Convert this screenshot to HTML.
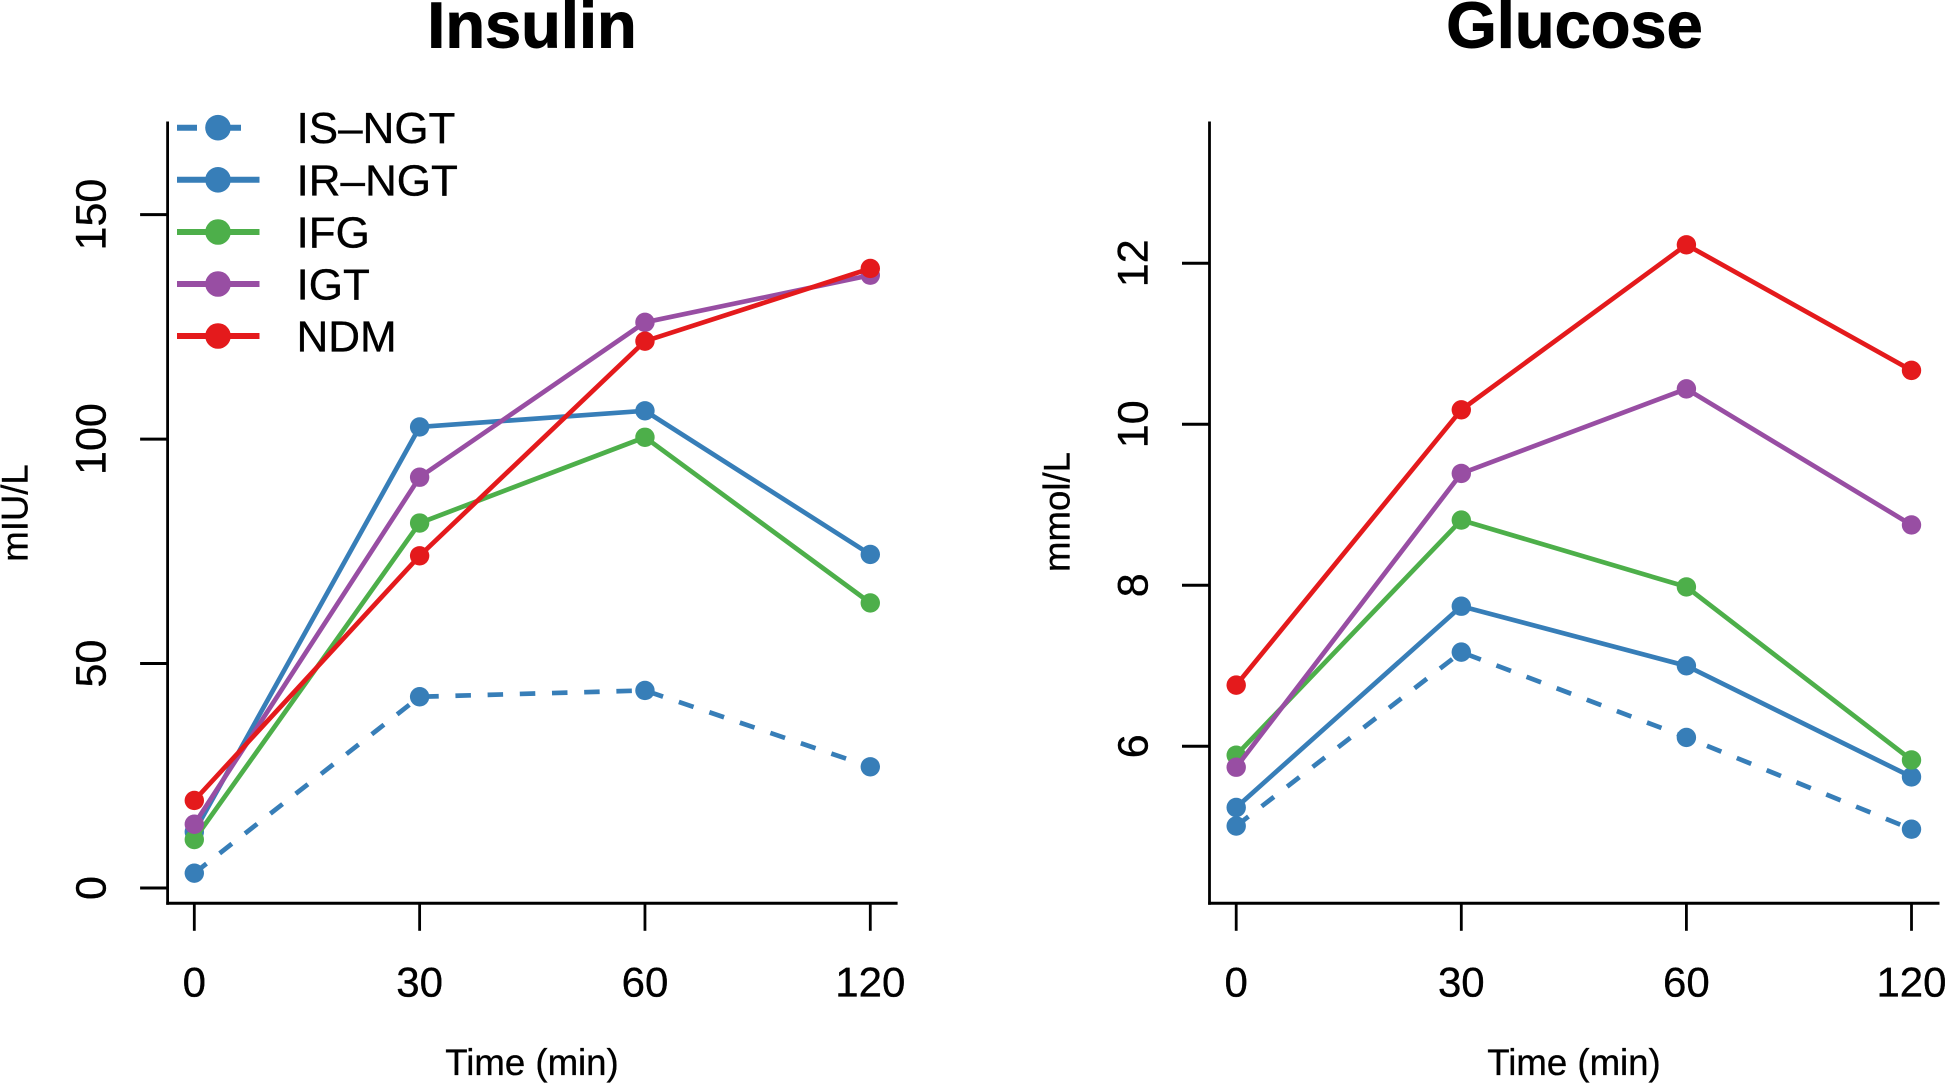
<!DOCTYPE html>
<html lang="en">
<head>
<meta charset="utf-8">
<title>Insulin and Glucose by Time</title>
<style>
  html, body { margin: 0; padding: 0; background: #fff; }
  body { width: 1946px; height: 1083px; overflow: hidden; }
  svg { display: block; font-family: "Liberation Sans", sans-serif; }
  text { stroke: #000; stroke-width: 0.35px; }
  .title { stroke-width: 0.9px; }
</style>
</head>
<body>
<svg id="chart" xmlns="http://www.w3.org/2000/svg" width="1946" height="1083" viewBox="0 0 1946 1083">
  <rect width="1946" height="1083" fill="#ffffff"/>
  <text class="title" x="532" y="47.5" font-size="65" font-weight="bold" text-anchor="middle" fill="#000">Insulin</text>
  <text class="title" x="1574.5" y="47.5" font-size="65" font-weight="bold" text-anchor="middle" fill="#000">Glucose</text>
  <text x="532" y="1075" font-size="36.6" text-anchor="middle" fill="#000">Time (min)</text>
  <text x="1574" y="1075" font-size="36.6" text-anchor="middle" fill="#000">Time (min)</text>
  <text transform="translate(27.5 513) rotate(-90)" font-size="36.6" text-anchor="middle" fill="#000">mIU/L</text>
  <text transform="translate(1069.5 512) rotate(-90)" font-size="36.6" text-anchor="middle" fill="#000">mmol/L</text>
  <g id="insulin-panel"></g>
  <g id="glucose-panel"></g>
  <g id="legend"></g>
</svg>
<script>
const timeLabels = ["0", "30", "60", "120"];
const groupNames = ["IS\u2013NGT", "IR\u2013NGT", "IFG", "IGT", "NDM"];
const insulinTicks = [0, 50, 100, 150];
const glucoseTicks = [6, 8, 10, 12];

const insulinISNGT = [3.3, 42.6, 44.0, 27.0];
const insulinIRNGT = [12.5, 102.7, 106.3, 74.3];
const insulinIFG = [10.8, 81.3, 100.4, 63.5];
const insulinIGT = [14.2, 91.5, 126.0, 136.5];
const insulinNDM = [19.5, 74.0, 121.8, 138.0];

const glucoseISNGT = [5.01, 7.17, 6.11, 4.97];
const glucoseIRNGT = [5.24, 7.74, 7.00, 5.62];
const glucoseIFG = [5.89, 8.81, 7.98, 5.83];
const glucoseIGT = [5.74, 9.39, 10.44, 8.75];
const glucoseNDM = [6.76, 10.18, 12.23, 10.67];

const NS = "http://www.w3.org/2000/svg";
const BLUE = "#377eb8", GREEN = "#4daf4a", PURPLE = "#984ea3", RED = "#e41a1c";
const seriesColors = [BLUE, BLUE, GREEN, PURPLE, RED];
const seriesKeys = ["is-ngt", "ir-ngt", "ifg", "igt", "ndm"];
const DASH = "15.5 16.7";
const LINE_W = 4.7;
const R = 9.7;

function make(parent, tag, attrs) {
  const el = document.createElementNS(NS, tag);
  for (const k in attrs) el.setAttribute(k, attrs[k]);
  parent.appendChild(el);
  return el;
}

function linearScale(v0, p0, v1, p1) {
  return function (v) { return p0 + (v - v0) * (p1 - p0) / (v1 - v0); };
}

function drawPanel(panelId, prefix, geom, yScale, yTicks, seriesList) {
  const root = document.getElementById(panelId);
  const xScale = function (i) { return geom.x0 + i * geom.dx; };

  const yAxis = make(root, "line", { x1: geom.axisX, x2: geom.axisX, y1: geom.top, y2: geom.bottom + 1.4, stroke: "#000", "stroke-width": 2.8 });
  
  

  const xAxis = make(root, "line", { x1: geom.axisX - 1.3, x2: geom.right, y1: geom.bottom, y2: geom.bottom, stroke: "#000", "stroke-width": 3 });
  
  

  yTicks.forEach(function (v) {
    const y = yScale(v);
    const tick = make(root, "line", { x1: geom.axisX - 27.5, x2: geom.axisX, y1: y, y2: y, stroke: "#000", "stroke-width": 3 });
    
    
    const label = make(root, "text", { transform: "translate(" + (geom.axisX - 62) + " " + y + ") rotate(-90)", "font-size": 43, "text-anchor": "middle", fill: "#000" });
    label.textContent = String(v);
    
    
  });

  timeLabels.forEach(function (t, i) {
    const x = xScale(i);
    const tick = make(root, "line", { x1: x, x2: x, y1: geom.bottom, y2: geom.bottom + 27.5, stroke: "#000", "stroke-width": 2.8 });
    
    
    const label = make(root, "text", { x: x, y: 996.5, "font-size": 42, "text-anchor": "middle", fill: "#000" });
    label.textContent = t;
    
    
  });

  seriesList.forEach(function (values, s) {
    const group = make(root, "g", {});
    
    
    const pts = values.map(function (v, i) { return xScale(i).toFixed(2) + "," + yScale(v).toFixed(2); }).join(" ");
    const attrs = { points: pts, fill: "none", stroke: seriesColors[s], "stroke-width": LINE_W, "stroke-linejoin": "round" };
    if (s === 0) { attrs["stroke-dasharray"] = DASH; }
    const line = make(group, "polyline", attrs);
    
    
    values.forEach(function (v, i) {
      const pt = make(group, "circle", { cx: xScale(i), cy: yScale(v), r: R, fill: seriesColors[s] });
      
      
    });
  });
}

function drawLegend() {
  const root = document.getElementById("legend");
  const rowY = [127.7, 179.8, 232.0, 284.0, 336.0];
  groupNames.forEach(function (name, s) {
    const entry = make(root, "g", {});
    
    
    const attrs = { x1: 177, x2: s === 0 ? 241 : 259.5, y1: rowY[s], y2: rowY[s], stroke: seriesColors[s], "stroke-width": 6 };
    if (s === 0) attrs["stroke-dasharray"] = "20 25 19";
    const swatch = make(entry, "line", attrs);
    
    
    const dot = make(entry, "circle", { cx: 218, cy: rowY[s], r: 12.8, fill: seriesColors[s] });
    
    
    const label = make(entry, "text", { x: 296.5, y: rowY[s] + 15.5, "font-size": 44, fill: "#000" });
    label.textContent = name;
    
    
  });
}

drawPanel("insulin-panel", "insulin",
  { axisX: 167.6, right: 897.6, top: 121.5, bottom: 903.3, x0: 194.3, dx: 225.33 },
  linearScale(0, 888, 150, 214.6), insulinTicks,
  [insulinISNGT, insulinIRNGT, insulinIFG, insulinIGT, insulinNDM]);

drawPanel("glucose-panel", "glucose",
  { axisX: 1209.5, right: 1939.5, top: 121.5, bottom: 903.3, x0: 1236.2, dx: 225.1 },
  linearScale(6, 746.3, 12, 263.3), glucoseTicks,
  [glucoseISNGT, glucoseIRNGT, glucoseIFG, glucoseIGT, glucoseNDM]);

drawLegend();
</script>
</body>
</html>
